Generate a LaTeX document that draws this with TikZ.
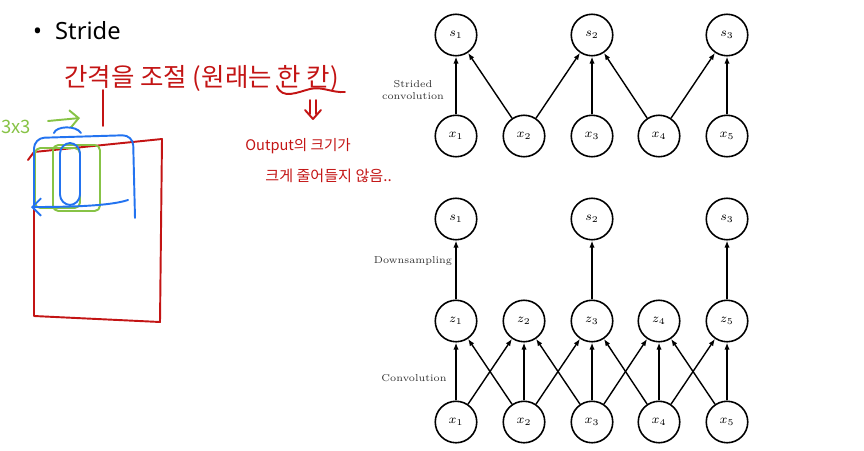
\documentclass[tikz,border=0pt]{standalone}
\usepackage{fontspec}
\newfontfamily\korfont{Noto Sans CJK KR}
\newfontfamily\slidefont{Noto Sans}
\usetikzlibrary{arrows.meta, positioning}
\definecolor{penred}{RGB}{195,20,20}
\definecolor{pengreen}{RGB}{135,195,70}
\definecolor{penblue}{RGB}{35,115,240}

\begin{document}
\begin{tikzpicture}[x=0.02cm, y=-0.02cm,
  unit/.style={draw, circle, line width=0.9pt, minimum size=0.83cm, inner sep=0pt, font=\fontsize{7}{8}\selectfont},
  link/.style={-{Latex[length=4pt,width=3pt]}, line width=0.8pt},
  caption/.style={font=\fontsize{5.7}{7}\selectfont, align=center, text=black!80},
  pen/.style={line width=1.1pt, line cap=round, line join=round},
  hand/.style={text=penred, inner sep=0pt, anchor=west}]
\useasboundingbox (0,0) rectangle (864,450);

% slide title
\node[anchor=west, font=\slidefont\fontsize{13.5}{16}\selectfont] (title) at (27,31) {\textbullet\hspace{0.55em}Stride};

% strided convolution
\foreach \i/\x in {1/456,2/592,3/727}
  \node[unit] (s\i) at (\x,35) {$s_{\i}$};
\foreach \i/\x in {1/456,2/524,3/592,4/659,5/727}
  \node[unit] (x\i) at (\x,136) {$x_{\i}$};
\foreach \a/\b in {x1/s1,x2/s1,x2/s2,x3/s2,x4/s2,x4/s3,x5/s3}
  \draw[link] (\a) -- (\b);
\node[caption] (strided) at (413,90) {Strided\\convolution};

% convolution + downsampling
\foreach \i/\x in {1/456,2/592,3/727}
  \node[unit] (d\i) at (\x,219) {$s_{\i}$};
\foreach \i/\x in {1/456,2/524,3/592,4/659,5/727} {
  \node[unit] (z\i) at (\x,321) {$z_{\i}$};
  \node[unit] (xb\i) at (\x,422) {$x_{\i}$};
}
\foreach \a/\b in {z1/d1,z3/d2,z5/d3}
  \draw[link] (\a) -- (\b);
\foreach \i in {1,...,5}
  \draw[link] (xb\i) -- (z\i);
\foreach \i [evaluate=\i as \j using int(\i+1)] in {1,...,4} {
  \draw[link] (xb\i) -- (z\j);
  \draw[link] (xb\j) -- (z\i);
}
\node[caption] (down) at (413,261) {Downsampling};
\node[caption] (conv) at (414,378) {Convolution};

% handwritten notes
\node[hand, font=\korfont\fontsize{14.5}{17}\selectfont] (gap) at (64,78) {간격을 조절 (원래는 한 칸)};
\node[hand, font=\korfont\fontsize{8.3}{10}\selectfont] (outsize) at (245,146) {Output의 크기가};
\node[hand, font=\korfont\fontsize{8.6}{10}\selectfont] (nodrop) at (265,176) {크게 줄어들지 않음..};
\node[text=pengreen, font=\korfont\fontsize{10.5}{12}\selectfont, anchor=west, inner sep=0pt] (kernel) at (1,127) {3x3};

\draw[pen, penred] (103,90) -- (103,126);
\draw[pen, penred] (277,86) .. controls (282,100) and (298,92) .. (310,89) .. controls (322,86) and (332,93) .. (345,92);
\draw[pen, penred] (310,100) -- (310,114) (316,100) -- (316,114) (305,110) -- (313,119) -- (321,110);

% input map
\draw[pen, penred] (28,160) -- (34,152) -- (162,139) -- (160,322) -- (34,316) -- (34,152);
\draw[pen, pengreen, rounded corners=3pt] (35,148) rectangle (80,208);
\draw[pen, pengreen, rounded corners=3pt] (53,145) rectangle (100,211);
\draw[pen, pengreen, -{Straight Barb[length=5pt]}] (48,121) -- (80,118);
\draw[pen, penblue, rounded corners=6pt] (34,207) -- (34,138) -- (133,135) -- (135,218);
\draw[pen, penblue, rounded corners=6pt] (60,143) rectangle (80,205);
\draw[pen, penblue, -{Straight Barb[length=5pt]}] (128,200) .. controls (110,206) and (70,207) .. (31,207);
\draw[pen, penblue] (54,133) .. controls (56,126) and (76,125) .. (81,133);
\end{tikzpicture}
\end{document}
